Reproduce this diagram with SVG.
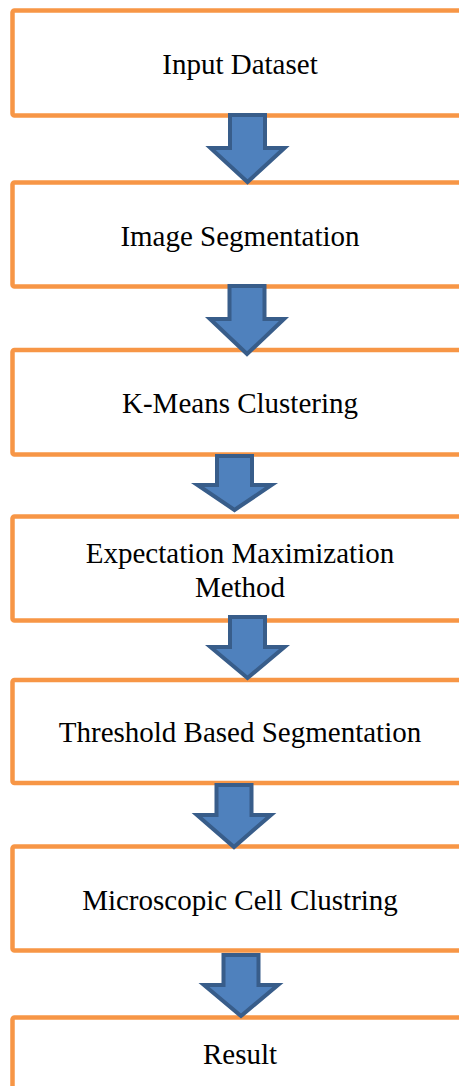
<svg xmlns="http://www.w3.org/2000/svg" width="459" height="1086" viewBox="0 0 459 1086">
<style>
.box{fill:#ffffff;stroke:#f79646;stroke-width:4.5}
.arr{fill:#4f81bd;stroke:#385d8a;stroke-width:4;stroke-linejoin:miter}
.lbl{font-family:"Liberation Serif","Times New Roman",serif;font-size:29px;fill:#000000;text-anchor:middle}
</style>
<rect width="459" height="1086" fill="#ffffff"/>
<g id="n1"><rect class="box" x="12.5" y="10.5" width="455" height="105" rx="2"/><text class="lbl" x="240" y="74">Input Dataset</text></g>
<g id="n2"><rect class="box" x="12.5" y="182.5" width="455" height="104" rx="2"/><text class="lbl" x="240" y="245.5">Image Segmentation</text></g>
<g id="n3"><rect class="box" x="12.5" y="350" width="455" height="104.5" rx="2"/><text class="lbl" x="240" y="413">K-Means Clustering</text></g>
<g id="n4"><rect class="box" x="12.5" y="516.5" width="455" height="104" rx="2"/><text class="lbl" x="240" y="563">Expectation Maximization</text><text class="lbl" x="240" y="597">Method</text></g>
<g id="n5"><rect class="box" x="12.5" y="680" width="455" height="103" rx="2"/><text class="lbl" x="240" y="742">Threshold Based Segmentation</text></g>
<g id="n6"><rect class="box" x="12.5" y="846.5" width="455" height="104" rx="2"/><text class="lbl" x="240" y="909.5">Microscopic Cell Clustring</text></g>
<g id="n7"><rect class="box" x="12.5" y="1017.5" width="455" height="100" rx="2"/><text class="lbl" x="240" y="1064">Result</text></g>
<g id="connectors">
<path class="arr" d="M230,115 H265 V148 H284.5 L247.5,182 L210.5,148 H230 Z"/>
<path class="arr" d="M229.5,286 H264.5 V319 H284 L247,354 L210,319 H229.5 Z"/>
<path class="arr" d="M217,456 H252 V485 H271.5 L234.5,510 L197.5,485 H217 Z"/>
<path class="arr" d="M230,617 H265 V647 H284.5 L247.5,678 L210.5,647 H230 Z"/>
<path class="arr" d="M216.5,785 H251.5 V815 H271 L234,847 L197,815 H216.5 Z"/>
<path class="arr" d="M223.5,955 H258.5 V985 H278 L241,1016 L204,985 H223.5 Z"/>
</g>
</svg>
